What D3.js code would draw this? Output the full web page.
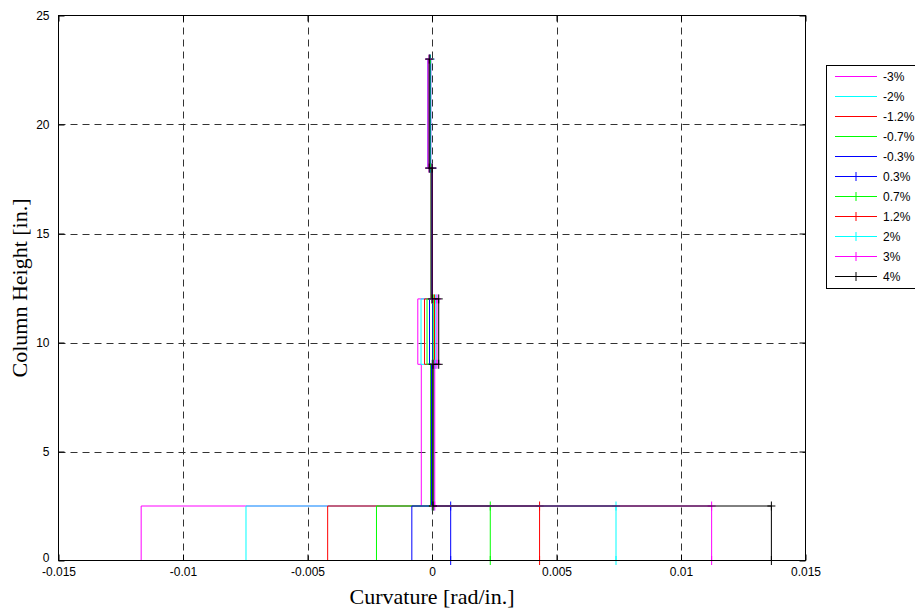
<!DOCTYPE html>
<html><head><meta charset="utf-8">
<script src="https://cdn.jsdelivr.net/npm/d3@7"></script>
<style>body{margin:0;background:#fff;} svg{display:block;}</style>
</head><body>
<svg id="c" width="915" height="610"></svg>
<script>
// Segment boundaries (column height, in.)
const heights = [0, 2.5, 9, 12, 18, 23];
// Series labels and colours
const labels = ["-3%","-2%","-1.2%","-0.7%","-0.3%","0.3%","0.7%","1.2%","2%","3%","4%"];
const colors = ["#ff00ff","#00ffff","#ff0000","#00ff00","#0000ff","#0000ff","#00ff00","#ff0000","#00ffff","#ff00ff","#000000"];
const hasMarker = [false,false,false,false,false,true,true,true,true,true,true];
// Curvature per segment (rad/in.), segments 0-2.5, 2.5-9, 9-12, 12-18, 18-23
const kNeg3  = [-0.01168, -0.00043, -0.00057, -0.00006, -0.00018];
const kNeg2  = [-0.00747, -0.00006, -0.00044, -0.00005, -0.00015];
const kNeg12 = [-0.00419, -0.00005, -0.00030, -0.00004, -0.00012];
const kNeg07 = [-0.00223, -0.00005, -0.00020, -0.00003, -0.00008];
const kNeg03 = [-0.00081, -0.00002, -0.00010, -0.00002, -0.00005];
const kPos03 = [0.00075, 0.00001, 0.00002, 0.00000, -0.00006];
const kPos07 = [0.00234, 0.00002, 0.00005, 0.00001, -0.00008];
const kPos12 = [0.00432, 0.00005, 0.00010, 0.00001, -0.00010];
const kPos2  = [0.00739, 0.00008, 0.00015, 0.00002, -0.00010];
const kPos3  = [0.01123, 0.00011, 0.00020, 0.00002, -0.00012];
const kPos4  = [0.01363, 0.00004, 0.00027, 0.00001, -0.00011];
const seriesValues = [kNeg3,kNeg2,kNeg12,kNeg07,kNeg03,kPos03,kPos07,kPos12,kPos2,kPos3,kPos4];
const xTicks = [-0.015,-0.01,-0.005,0,0.005,0.01,0.015];
const xTickLabels = ["-0.015","-0.01","-0.005","0","0.005","0.01","0.015"];
const yTicks = [0,5,10,15,20,25];

const svg = d3.select("#c");
const L = 58.5, R = 805.5, T = 15.5, B = 560.5;
const x = d3.scaleLinear().domain([-0.015,0.015]).range([L,R]);
const y = d3.scaleLinear().domain([0,25]).range([B,T]);

// grid
const g = svg.append("g");
g.selectAll(".gx").data(xTicks.slice(1,-1)).join("line")
  .attr("x1",d=>Math.round(x(d))+0.5).attr("x2",d=>Math.round(x(d))+0.5)
  .attr("y1",T).attr("y2",B).attr("stroke","#333").attr("stroke-dasharray","7,5");
g.selectAll(".gy").data(yTicks.slice(1,-1)).join("line")
  .attr("y1",d=>Math.round(y(d))+0.5).attr("y2",d=>Math.round(y(d))+0.5)
  .attr("x1",L).attr("x2",R).attr("stroke","#333").attr("stroke-dasharray","7,5");

// axes (ticks inside)
const fontTick = "Liberation Sans, Arial, sans-serif";
const xb = svg.append("g").attr("transform",`translate(0,${B})`)
  .call(d3.axisBottom(x).tickValues(xTicks).tickSizeInner(-6).tickSizeOuter(0).tickPadding(9)
    .tickFormat((d,i)=>xTickLabels[i]));
const xt = svg.append("g").attr("transform",`translate(0,${T})`)
  .call(d3.axisTop(x).tickValues(xTicks).tickSizeInner(-6).tickSizeOuter(0).tickFormat(""));
const yl = svg.append("g").attr("transform",`translate(${L},0)`)
  .call(d3.axisLeft(y).tickValues(yTicks).tickSizeInner(-6).tickSizeOuter(0).tickPadding(9).tickFormat(d=>String(d)));
const yr = svg.append("g").attr("transform",`translate(${R},0)`)
  .call(d3.axisRight(y).tickValues(yTicks).tickSizeInner(-6).tickSizeOuter(0).tickFormat(""));
[xb,xt,yl,yr].forEach(a=>{
  a.select(".domain").remove();
  a.selectAll("line").attr("stroke","#000");
  a.selectAll("text").attr("font-family",fontTick).attr("font-size",12).attr("fill","#000");
});
xb.selectAll("text").attr("dy","0.5em");
yl.selectAll("text").attr("dy","0.35em");
yl.selectAll("text").filter(d=>d===0).attr("dy","0.1em");

// series
const line = d3.line().x(d=>x(d[0])).y(d=>y(d[1]));
const plot = svg.append("g");
seriesValues.forEach((ks,i)=>{
  const pts = [];
  ks.forEach((k,j)=>{ pts.push([k,heights[j]]); pts.push([k,heights[j+1]]); });
  plot.append("path").datum(pts).attr("d",line).attr("fill","none")
    .attr("stroke",colors[i]).attr("stroke-width",1);
  if(hasMarker[i]){
    plot.selectAll(null).data(pts).join("path")
      .attr("d",d=>{const cx=x(d[0]),cy=y(d[1]);return `M${cx-4},${cy}H${cx+4}M${cx},${cy-4.5}V${cy+4.5}`;})
      .attr("stroke",colors[i]).attr("stroke-width",1).attr("fill","none");
  }
});

// frame
svg.append("rect").attr("x",L).attr("y",T).attr("width",R-L).attr("height",B-T)
  .attr("fill","none").attr("stroke","#000").attr("stroke-width",1);

// axis titles
svg.append("text").attr("x",(L+R)/2).attr("y",604).attr("text-anchor","middle")
  .attr("font-family","Liberation Serif, Times New Roman, serif").attr("font-size",22).text("Curvature [rad/in.]");
svg.append("text").attr("transform",`translate(27,${(T+B)/2}) rotate(-90)`).attr("text-anchor","middle")
  .attr("font-family","Liberation Serif, Times New Roman, serif").attr("font-size",22).text("Column Height [in.]");

// legend
const lg = svg.append("g");
lg.append("rect").attr("x",826.5).attr("y",65.5).attr("width",120).attr("height",223)
  .attr("fill","#fff").attr("stroke","#000");
labels.forEach((lab,i)=>{
  const yy = 76.5 + i*20;
  lg.append("line").attr("x1",835).attr("x2",877).attr("y1",yy).attr("y2",yy).attr("stroke",colors[i]);
  if(hasMarker[i]) lg.append("path").attr("d",`M852,${yy}H860M856,${yy-4.5}V${yy+4.5}`).attr("stroke",colors[i]);
  lg.append("text").attr("x",883).attr("y",yy).attr("dy","0.35em")
    .attr("font-family",fontTick).attr("font-size",12).text(lab);
});
</script>
</body></html>
